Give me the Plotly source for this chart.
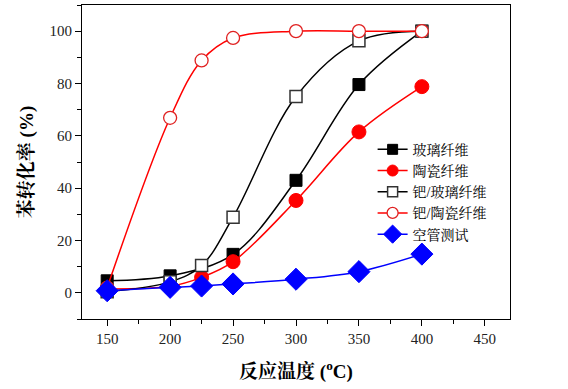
import plotly.graph_objects as go

names = ["玻璃纤维", "陶瓷纤维", "钯/玻璃纤维", "钯/陶瓷纤维", "空管测试"]

glass_x = [150, 200, 250, 300, 350, 400]
glass_y = [4.6, 6.5, 14.7, 43.0, 79.6, 100.0]

ceramic_x = [150, 200, 225, 250, 300, 350, 400]
ceramic_y = [1.5, 2.5, 5.9, 11.9, 35.3, 61.5, 78.8]

pd_glass_x = [150, 200, 225, 250, 300, 350, 400]
pd_glass_y = [0.4, 4.2, 10.4, 28.9, 75.0, 96.3, 100.0]

pd_ceramic_x = [150, 200, 225, 250, 300, 350, 400]
pd_ceramic_y = [2.0, 66.9, 88.8, 97.4, 100.0, 100.0, 100.0]

blank_x = [150, 200, 225, 250, 300, 350, 400]
blank_y = [0.8, 2.1, 2.6, 3.4, 5.2, 8.1, 14.8]

x_ticks = [150, 200, 250, 300, 350, 400, 450]
y_ticks = [0, 20, 40, 60, 80, 100]

FONT = "'Liberation Serif', 'Noto Serif CJK SC', 'Noto Sans CJK SC', serif"

series = [
    (glass_x, glass_y, "black", "square", 12, "black", "black", 1, 10),
    (ceramic_x, ceramic_y, "#ff0000", "circle", 14, "#ff0000", "#ff0000", 1, 11),
    (pd_glass_x, pd_glass_y, "black", "square", 12, "white", "#333333", 1.5, 10),
    (pd_ceramic_x, pd_ceramic_y, "#ff0000", "circle", 13, "white", "#e02020", 1.3, 11),
    (blank_x, blank_y, "#0000ff", "diamond", 17, "#0000ff", "#0000ff", 1, 14),
]

fig = go.Figure()
for i, (xs, ys, lc, sym, size, fill, mlc, mlw, lsize) in enumerate(series):
    fig.add_trace(go.Scatter(x=xs, y=ys, name=names[i], mode="lines+markers",
                             showlegend=False, legendgroup=names[i],
                             line=dict(color=lc, width=1.5, shape="spline", smoothing=1.0),
                             marker=dict(symbol=sym, size=size, color=fill,
                                         line=dict(color=mlc, width=mlw))))
for i, (xs, ys, lc, sym, size, fill, mlc, mlw, lsize) in enumerate(series):
    # legend entry with smaller marker, as in the reference legend
    fig.add_trace(go.Scatter(x=[None], y=[None], name=names[i], mode="lines+markers",
                             showlegend=True, legendgroup=names[i],
                             line=dict(color=lc, width=1.5),
                             marker=dict(symbol=sym, size=lsize, color=fill,
                                         line=dict(color=mlc, width=mlw))))

axis_common = dict(showline=True, linecolor="black", linewidth=1.2, mirror=True,
                   ticks="outside", ticklen=6, tickwidth=1.2, tickcolor="black",
                   showgrid=False, zeroline=False,
                   tickfont=dict(family=FONT, size=15, color="#222222"))

fig.update_xaxes(range=[130, 470], tickmode="array", tickvals=x_ticks,
                 minor=dict(ticks="outside", ticklen=4, dtick=25, tickcolor="black", tickwidth=1.2),
                 title=dict(text="<b>反应温度 (<sup>o</sup>C)</b>", font=dict(family=FONT, size=19, color="black"),
                            standoff=18),
                 **axis_common)
fig.update_yaxes(range=[-10, 110], tickmode="array", tickvals=y_ticks,
                 minor=dict(ticks="outside", ticklen=4, dtick=10, tickcolor="black", tickwidth=1.2),
                 title=dict(text="<b>苯转化率 (%)</b>", font=dict(family=FONT, size=19, color="black"),
                            standoff=10),
                 **axis_common)

fig.update_layout(
    width=568, height=389,
    margin=dict(l=82, r=58, t=5, b=70),
    paper_bgcolor="white", plot_bgcolor="white",
    font=dict(family=FONT, size=14, color="black"),
    legend=dict(x=0.679, y=0.59, xanchor="left", yanchor="top",
                bgcolor="rgba(0,0,0,0)", borderwidth=0,
                font=dict(family=FONT, size=14, color="black"),
                tracegroupgap=0, itemwidth=30),
    showlegend=True,
)

fig.write_html("out.html", config={"displayModeBar": False},
               post_script="document.body.style.margin='0';document.body.style.padding='0';")
